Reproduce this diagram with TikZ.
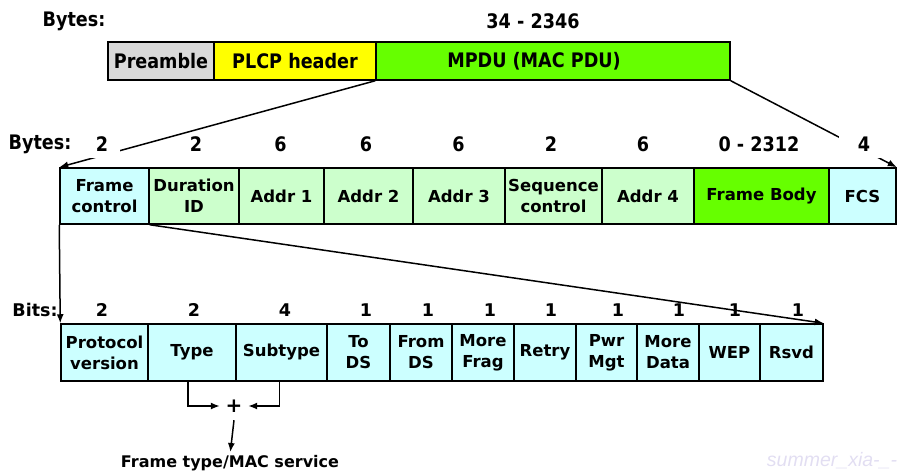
\documentclass[tikz,border=0pt]{standalone}
\usepackage{fontspec}
\setmainfont{DejaVu Sans}
\newfontfamily\narrowsans[FakeStretch=0.88]{DejaVu Sans}
\newfontfamily\markfont{Liberation Sans}
\usetikzlibrary{arrows.meta}

\definecolor{pregray}{HTML}{D9D9D9}
\definecolor{plcpyellow}{HTML}{FFFF00}
\definecolor{mpdugreen}{HTML}{66FF00}
\definecolor{lightcyan}{HTML}{CCFFFF}
\definecolor{lightgreen}{HTML}{CCFFCC}
\definecolor{markcolor}{HTML}{E2DEF2}

\tikzset{
  field/.style={draw, line width=1.5pt, inner sep=0pt, align=center},
  toprow/.style={field, minimum height=38pt, font=\narrowsans\bfseries\fontsize{20}{24}\selectfont},
  midrow/.style={field, minimum height=56pt, font=\bfseries\fontsize{16.5}{21}\selectfont},
  bitrow/.style={field, minimum height=57pt, fill=lightcyan, font=\bfseries\fontsize{16.5}{21}\selectfont},
  bytelbl/.style={inner sep=0pt, font=\narrowsans\bfseries\fontsize{20}{24}\selectfont},
  bitlbl/.style={inner sep=0pt, font=\bfseries\fontsize{17.5}{20}\selectfont},
  link/.style={line width=1.5pt, -{Latex[length=9pt,width=7pt]}},
}

\begin{document}
\begin{tikzpicture}[x=1pt,y=-1pt]
\useasboundingbox (0,0) rectangle (903,475);

% PHY frame
\node[bytelbl] (topbytes) at (74,21) {Bytes:};
\node[bytelbl] (toplen) at (533,21) {34 - 2346};
\node[toprow, fill=pregray, minimum width=106pt] (pre) at (161,61) {Preamble};
\node[toprow, fill=plcpyellow, minimum width=162pt] (plcp) at (295,61) {PLCP header};
\node[toprow, fill=mpdugreen, minimum width=354pt,
      label={[xshift=-19pt, font=\narrowsans\bfseries\fontsize{20}{24}\selectfont]center:MPDU (MAC PDU)}] (mpdu) at (553,61) {};

% MAC frame
\node[midrow, fill=lightcyan,  minimum width=89pt]  (fc)   at (104.5,196) {Frame\\control};
\node[midrow, fill=lightgreen, minimum width=90pt]  (dur)  at (194,196)   {Duration\\ID};
\node[midrow, fill=lightgreen, minimum width=85pt]  (a1)   at (281.5,196) {Addr 1};
\node[midrow, fill=lightgreen, minimum width=89pt]  (a2)   at (368.5,196) {Addr 2};
\node[midrow, fill=lightgreen, minimum width=92pt]  (a3)   at (459,196)   {Addr 3};
\node[midrow, fill=lightgreen, minimum width=97pt]  (seq)  at (553.5,196) {Sequence\\control};
\node[midrow, fill=lightgreen, minimum width=92pt]  (a4)   at (648,196)   {Addr 4};
\node[midrow, fill=mpdugreen,  minimum width=135pt] (body) at (761.5,196) {Frame Body};
\node[midrow, fill=lightcyan,  minimum width=67pt]  (fcs)  at (862.5,196) {FCS};

% zoom lines from the MPDU onto the MAC frame
\draw[link] (mpdu.south west) -- (fc.north west);
\draw[link] (mpdu.south east) -- (fcs.north east);

\node[bytelbl] (midbytes) at (40,144) {Bytes:};
\node[bytelbl, fill=white, minimum width=36pt, minimum height=28pt] (n1) at (102,144) {2};
\node[bytelbl] (n2) at (196,144) {2};
\node[bytelbl] (n3) at (280.5,144) {6};
\node[bytelbl] (n4) at (366,144) {6};
\node[bytelbl] (n5) at (458.5,144) {6};
\node[bytelbl] (n6) at (551,144) {2};
\node[bytelbl] (n7) at (643,144) {6};
\node[bytelbl] (n8) at (759,144) {0 - 2312};
\node[bytelbl, fill=white, minimum width=50pt, minimum height=28pt] (n9) at (864,144) {4};

% Frame control bits
\node[bitrow, minimum width=87pt] (pv)     at (104.5,352.5) {Protocol\\version};
\node[bitrow, minimum width=88pt] (type)   at (192,352.5)   {Type};
\node[bitrow, minimum width=91pt] (sub)    at (281.5,352.5) {Subtype};
\node[bitrow, minimum width=63pt] (tods)   at (358.5,352.5) {To\\DS};
\node[bitrow, minimum width=62pt] (fromds) at (421,352.5)   {From\\DS};
\node[bitrow, minimum width=62pt] (mfrag)  at (483,352.5)   {More\\Frag};
\node[bitrow, minimum width=62pt] (retry)  at (545,352.5)   {Retry};
\node[bitrow, minimum width=61pt] (pwr)    at (606.5,352.5) {Pwr\\Mgt};
\node[bitrow, minimum width=62pt] (mdata)  at (668,352.5)   {More\\Data};
\node[bitrow, minimum width=61pt] (wep)    at (729.5,352.5) {WEP};
\node[bitrow, minimum width=63pt] (rsvd)   at (791.5,352.5) {Rsvd};

\node[bitlbl] (bits) at (35,310) {Bits:};
\node[bitlbl] (b1)  at (102,310) {2};
\node[bitlbl] (b2)  at (194,310) {2};
\node[bitlbl] (b3)  at (285,310) {4};
\node[bitlbl] (b4)  at (366,310) {1};
\node[bitlbl] (b5)  at (428,310) {1};
\node[bitlbl] (b6)  at (490,310) {1};
\node[bitlbl] (b7)  at (551,310) {1};
\node[bitlbl] (b8)  at (618,310) {1};
\node[bitlbl] (b9)  at (679,310) {1};
\node[bitlbl] (b10) at (735,310) {1};
\node[bitlbl] (b11) at (798,310) {1};

% zoom lines from Frame control onto its bits
\draw[link] (fc.south west) -- (pv.north west);
\draw[link] (fc.south east) -- (rsvd.north east);

% Type + Subtype
\node[inner sep=0pt, minimum size=28pt, font=\bfseries\fontsize{20}{22}\selectfont] (plus) at (234,406) {+};
\node[inner sep=0pt, font=\bfseries\fontsize{16}{20}\selectfont] (svc) at (230,463) {Frame type/MAC service};
\draw[link] ([xshift=-4pt]type.south) |- (plus.west);
\draw[link] ([xshift=-2pt]sub.south) |- (plus.east);
\draw[link, shorten >=3pt] (plus.south) -- (svc.north);

% author mark
\node[anchor=base, inner sep=0pt, text=markcolor, font=\markfont\itshape\fontsize{19.5}{22}\selectfont] (mark) at (832,466) {summer\_xia-\_-};
\end{tikzpicture}
\end{document}
